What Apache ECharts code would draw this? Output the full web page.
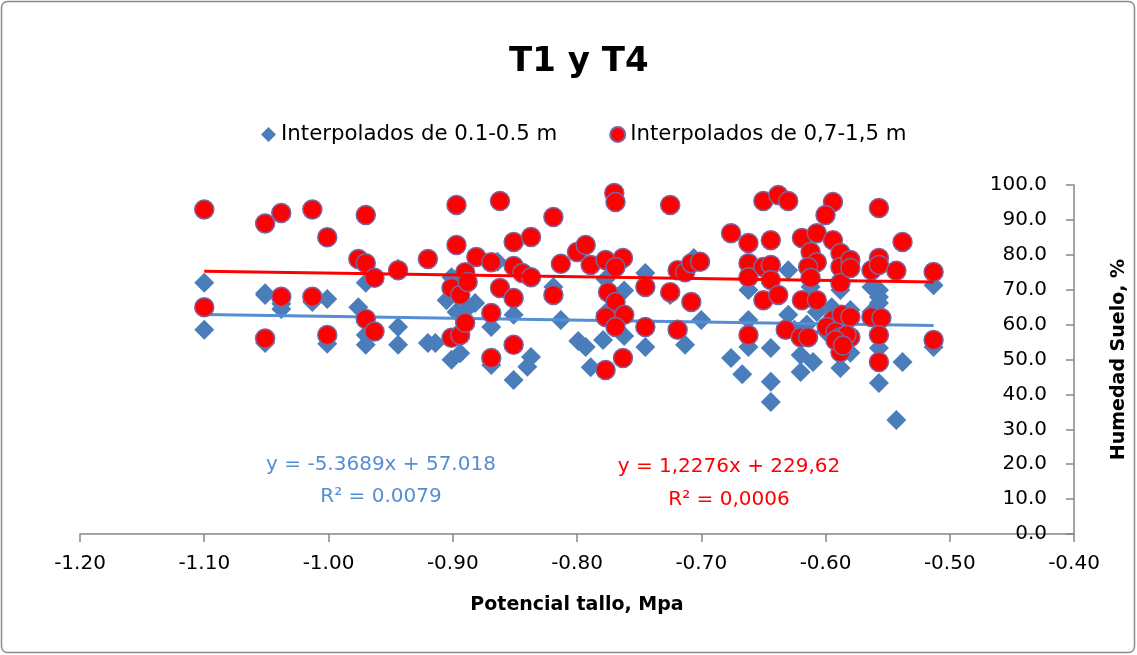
<!DOCTYPE html>
<html>
<head>
<meta charset="utf-8">
<title>T1 y T4</title>
<script src="https://cdn.jsdelivr.net/npm/echarts@6/dist/echarts.min.js"></script>
<style>
  html, body { margin: 0; padding: 0; background: #ffffff; }
  #chart { width: 1137px; height: 655px; }
</style>
</head>
<body>
<div id="chart"></div>
<script>
// Stem water potential (MPa) vs. soil moisture (%), shallow layer
const shallowName = 'Interpolados de 0.1-0.5 m';
const shallowX = [
  -1.100, -1.100, -1.051, -1.051, -1.051, -1.038, -1.038, -1.013, -1.001, -1.001,
  -0.976, -0.970, -0.970, -0.970, -0.944, -0.944, -0.944, -0.920, -0.914, -0.901,
  -0.897, -0.901, -0.894, -0.890, -0.905, -0.882, -0.869, -0.851, -0.869, -0.851,
  -0.840, -0.837, -0.864, -0.819, -0.813, -0.799, -0.789, -0.793, -0.777, -0.762,
  -0.745, -0.762, -0.779, -0.777, -0.745, -0.706, -0.725, -0.700, -0.713, -0.676,
  -0.667, -0.630, -0.662, -0.630, -0.662, -0.662, -0.644, -0.644, -0.644, -0.612,
  -0.607, -0.620, -0.610, -0.620, -0.588, -0.588, -0.580, -0.615, -0.600, -0.595,
  -0.625, -0.513, -0.557, -0.557, -0.563, -0.557, -0.563, -0.557, -0.538, -0.557,
  -0.543, -0.513, -0.580
];
const shallowY = [
  72.0, 58.5, 69.0, 68.5, 54.7, 66.0, 64.5, 66.5, 67.3, 54.5,
  65.0, 72.0, 57.0, 54.2, 76.0, 59.3, 54.2, 54.7, 54.7, 73.6,
  63.6, 49.9, 51.8, 64.0, 67.0, 66.2, 59.3, 62.8, 48.4, 44.1,
  47.9, 50.7, 78.0, 70.8, 61.3, 55.3, 47.8, 53.6, 63.3, 69.8,
  74.8, 56.7, 55.6, 73.0, 53.6, 79.1, 68.5, 61.3, 54.2, 50.4,
  45.8, 75.6, 69.9, 62.8, 61.3, 53.6, 53.3, 43.6, 37.8, 70.8,
  63.6, 51.3, 49.3, 46.4, 47.6, 69.9, 64.2, 60.0, 58.0, 65.0,
  58.5, 71.3, 69.9, 67.9, 70.8, 66.2, 63.6, 53.3, 49.3, 43.3,
  32.7, 53.6, 51.9
];

// Deeper layer
const deepName = 'Interpolados de 0,7-1,5 m';
const deepX = [
  -1.100, -1.100, -1.051, -1.051, -1.038, -1.038, -1.013, -1.013, -1.001, -1.001,
  -0.976, -0.970, -0.963, -0.970, -0.970, -0.963, -0.944, -0.920, -0.897, -0.897,
  -0.901, -0.894, -0.901, -0.894, -0.862, -0.819, -0.851, -0.837, -0.881, -0.869,
  -0.890, -0.888, -0.851, -0.844, -0.837, -0.862, -0.851, -0.869, -0.890, -0.851,
  -0.869, -0.813, -0.800, -0.793, -0.789, -0.819, -0.777, -0.770, -0.769, -0.725,
  -0.777, -0.763, -0.769, -0.745, -0.775, -0.769, -0.762, -0.777, -0.769, -0.745,
  -0.763, -0.719, -0.713, -0.708, -0.701, -0.725, -0.708, -0.719, -0.676, -0.650,
  -0.638, -0.630, -0.594, -0.600, -0.662, -0.644, -0.662, -0.662, -0.650, -0.644,
  -0.644, -0.650, -0.638, -0.662, -0.632, -0.619, -0.607, -0.612, -0.607, -0.614,
  -0.594, -0.588, -0.588, -0.612, -0.588, -0.619, -0.607, -0.594, -0.587, -0.599,
  -0.592, -0.620, -0.614, -0.588, -0.588, -0.557, -0.538, -0.557, -0.563, -0.557,
  -0.543, -0.513, -0.580, -0.580, -0.563, -0.555, -0.557, -0.557, -0.513, -0.580,
  -0.580, -0.583, -0.592, -0.586
];
const deepY = [
  93.0, 65.0, 89.0, 56.0, 92.0, 68.0, 93.0, 68.0, 85.0, 57.0,
  78.8, 77.6, 73.4, 91.4, 61.6, 58.0, 75.6, 78.8, 94.3, 82.8,
  70.5, 68.5, 56.2, 57.0, 95.4, 90.8, 83.7, 85.1, 79.4, 77.9,
  75.0, 72.2, 76.8, 74.8, 73.6, 70.5, 67.6, 63.3, 60.5, 54.2,
  50.4, 77.4, 80.8, 82.8, 77.1, 68.5, 47.0, 97.7, 95.1, 94.3,
  78.5, 79.1, 76.5, 70.8, 69.3, 66.5, 62.8, 62.2, 59.3, 59.3,
  50.4, 75.6, 75.0, 77.6, 78.0, 69.3, 66.5, 58.5, 86.2, 95.4,
  97.1, 95.4, 95.1, 91.4, 83.4, 84.2, 77.6, 73.6, 76.5, 77.1,
  72.8, 67.0, 68.5, 57.0, 58.5, 84.8, 86.2, 80.8, 77.9, 76.5,
  84.2, 80.5, 76.5, 73.4, 71.9, 67.0, 67.0, 61.3, 62.8, 59.3,
  57.9, 56.4, 56.4, 52.1, 56.4, 93.4, 83.7, 79.1, 75.6, 77.1,
  75.4, 75.1, 78.5, 76.2, 62.2, 61.9, 57.0, 49.3, 55.6, 62.2,
  56.4, 57.0, 55.5, 54.0
];

// Linear trend of the shallow layer (from its fitted equation)
const shallowFit = { slope: -5.3689, intercept: 57.018, r2: '0.0079' };
// Linear trend of the deep layer (end points of the fitted line)
const deepTrendX = [-1.100, -0.513];
const deepTrendY = [75.3, 72.2];
const deepLabel = ['y = 1,2276x + 229,62', 'R² = 0,0006'];

const xTickMin = -1.2, xTickMax = -0.4, xTickStep = 0.1;
const yTickMin = 0, yTickMax = 100, yTickStep = 10;

const FONT = 'DejaVu Sans';

const zip = (xs, ys) => xs.map((x, i) => [x, ys[i]]);
const shallowPts = zip(shallowX, shallowY);
const deepPts = zip(deepX, deepY);
const sxMin = Math.min(...shallowX), sxMax = Math.max(...shallowX);
const shallowTrend = [sxMin, sxMax].map(x => [x, shallowFit.slope * x + shallowFit.intercept]);
const deepTrend = zip(deepTrendX, deepTrendY);

const chart = echarts.init(document.getElementById('chart'), null, { renderer: 'canvas' });

chart.setOption({
  animation: false,
  backgroundColor: '#ffffff',
  textStyle: { fontFamily: FONT },
  title: {
    text: 'T1 y T4',
    left: 504,
    top: 40,
    textStyle: { fontFamily: FONT, fontSize: 34, fontWeight: 'bold', color: '#000000' }
  },
  legend: {
    data: [shallowName, deepName],
    left: 256,
    top: 119,
    itemWidth: 15,
    itemHeight: 15,
    itemGap: 52,
    textStyle: { fontFamily: FONT, fontSize: 21.3, color: '#000000' }
  },
  grid: { left: 80, right: 50, top: 185, bottom: 121, containLabel: false },
  xAxis: {
    type: 'value',
    min: xTickMin,
    max: xTickMax,
    interval: xTickStep,
    name: 'Potencial tallo, Mpa',
    nameLocation: 'middle',
    nameGap: 62,
    nameTextStyle: { fontFamily: FONT, fontSize: 19, fontWeight: 'bold', color: '#000000' },
    axisLine: { onZero: false, lineStyle: { color: '#868686', width: 1.5 } },
    axisTick: { show: true, inside: false, length: 8, lineStyle: { color: '#868686', width: 1.5 } },
    axisLabel: {
      margin: 20,
      fontFamily: FONT, fontSize: 20, color: '#000000',
      formatter: v => v.toFixed(2)
    },
    splitLine: { show: false }
  },
  yAxis: {
    type: 'value',
    position: 'right',
    min: yTickMin,
    max: yTickMax,
    interval: yTickStep,
    name: 'Humedad Suelo, %',
    nameLocation: 'middle',
    nameRotate: 90,
    nameGap: 36,
    nameTextStyle: { fontFamily: FONT, fontSize: 19, fontWeight: 'bold', color: '#000000' },
    axisLine: { show: true, onZero: false, lineStyle: { color: '#868686', width: 1.5 } },
    axisTick: { show: true, inside: true, length: 8, lineStyle: { color: '#868686', width: 1.5 } },
    axisLabel: {
      inside: true,
      margin: 27,
      fontFamily: FONT, fontSize: 20, color: '#000000',
      formatter: v => v.toFixed(1)
    },
    splitLine: { show: false }
  },
  series: [
    {
      name: shallowName,
      type: 'scatter',
      symbol: 'diamond',
      symbolSize: 20,
      itemStyle: { color: '#4A7EBB', opacity: 1 },
      data: shallowPts,
      z: 2
    },
    {
      name: 'tendencia 0.1-0.5',
      type: 'line',
      data: shallowTrend,
      showSymbol: false,
      silent: true,
      lineStyle: { color: '#558ED5', width: 3 },
      z: 3
    },
    {
      name: deepName,
      type: 'scatter',
      symbol: 'circle',
      symbolSize: 19,
      itemStyle: { color: '#FF0000', borderColor: '#7A65A0', borderWidth: 1.5, opacity: 1 },
      data: deepPts,
      z: 4
    },
    {
      name: 'tendencia 0,7-1,5',
      type: 'line',
      data: deepTrend,
      showSymbol: false,
      silent: true,
      lineStyle: { color: '#FF0000', width: 3 },
      z: 5
    }
  ],
  graphic: [
    {
      type: 'rect',
      shape: { x: 1.5, y: 1.5, width: 1133, height: 651, r: 6 },
      style: { fill: 'none', stroke: '#8c8c8c', lineWidth: 1.5 },
      silent: true
    },
    {
      type: 'text', x: 381, y: 465,
      style: {
        text: 'y = -5.3689x + 57.018', fill: '#558ED5',
        font: '20px "DejaVu Sans"', textAlign: 'center', textVerticalAlign: 'middle'
      }
    },
    {
      type: 'text', x: 381, y: 497,
      style: {
        text: 'R² = ' + shallowFit.r2, fill: '#558ED5',
        font: '20px "DejaVu Sans"', textAlign: 'center', textVerticalAlign: 'middle'
      }
    },
    {
      type: 'text', x: 729, y: 467,
      style: {
        text: deepLabel[0], fill: '#FF0000',
        font: '20px "DejaVu Sans"', textAlign: 'center', textVerticalAlign: 'middle'
      }
    },
    {
      type: 'text', x: 729, y: 500,
      style: {
        text: deepLabel[1], fill: '#FF0000',
        font: '20px "DejaVu Sans"', textAlign: 'center', textVerticalAlign: 'middle'
      }
    }
  ]
});
</script>
</body>
</html>
